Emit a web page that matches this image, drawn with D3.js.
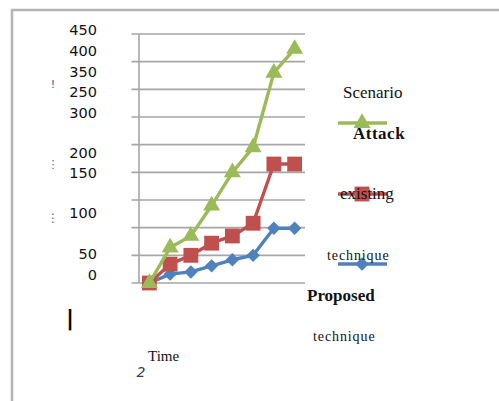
<!DOCTYPE html>
<html>
<head>
<meta charset="utf-8">
<script src="https://cdn.jsdelivr.net/npm/d3@7"></script>
<style>
  html, body { margin: 0; padding: 0; background: #fff; }
  svg { display: block; }
</style>
</head>
<body>
<svg id="chart" width="499" height="401"></svg>
<script>
// Time steps along the horizontal axis
const timeSteps = [1, 2, 3, 4, 5, 6, 7, 8];

// Series values
const attackScenario   = [0, 64, 85, 140, 200, 245, 380, 423];
const existingTechnique = [0, 34, 50, 72, 85, 108, 215, 215];
const proposedTechnique = [0, 16, 20, 31, 42, 50, 99, 99];

// Axis labels as they appear on the value axis (top to bottom)
const yTickLabels = ["450", "400", "350", "250", "300", "200", "150", "100", "50", "0"];
const yGridValues = [0, 50, 100, 150, 200, 250, 300, 350, 400, 450];

const svg = d3.select("#chart");

// Frame around the chart area (top and left edges visible)
svg.append("path")
  .attr("d", "M12,401 V10 H499")
  .attr("fill", "none")
  .attr("stroke", "#b4b4b4")
  .attr("stroke-width", 2.5);

const x = d3.scaleBand().domain(timeSteps).range([139, 305]).padding(0);
const y = d3.scaleLinear().domain([0, 450]).range([283, 34]);
const cx = d => x(d) + x.bandwidth() / 2;

// Horizontal gridlines (with short tick stubs left of the axis)
svg.append("g").selectAll("line")
  .data(yGridValues)
  .join("line")
  .attr("x1", 131.5).attr("x2", 305)
  .attr("y1", d => y(d)).attr("y2", d => y(d))
  .attr("stroke", "#a6a6a6")
  .attr("stroke-width", 1.6);

// Vertical value axis line
svg.append("line")
  .attr("x1", 139).attr("x2", 139)
  .attr("y1", y(450)).attr("y2", y(0))
  .attr("stroke", "#a6a6a6")
  .attr("stroke-width", 1.6);

// Value axis labels
const labelY = [30, 51, 72, 92, 113, 153, 173, 213, 254, 275];
svg.append("g").selectAll("text")
  .data(yTickLabels)
  .join("text")
  .attr("x", 97)
  .attr("y", (d, i) => labelY[i])
  .attr("dy", "0.36em")
  .attr("text-anchor", "end")
  .attr("font-family", "DejaVu Sans, Verdana, sans-serif")
  .attr("font-size", 14.5)
  .attr("fill", "#111")
  .text(d => d);

// Marker shapes
const triPath = d3.symbol(d3.symbolTriangle, 125)();
const sqPath = d3.symbol(d3.symbolSquare, 220)();
const diaPath = d3.symbol(d3.symbolSquare, 90)();

const series = [
  { name: "Proposed technique", values: proposedTechnique, color: "#4f81bd", marker: diaPath, rotate: 45 },
  { name: "existing", values: existingTechnique, color: "#c0504d", marker: sqPath, rotate: 0 },
  { name: "Attack Scenario", values: attackScenario, color: "#9bbb59", marker: triPath, rotate: 0 }
];

const line = d3.line()
  .x((d, i) => cx(timeSteps[i]))
  .y(d => y(d));

series.forEach(s => {
  const g = svg.append("g");
  g.append("path")
    .datum(s.values)
    .attr("d", line)
    .attr("fill", "none")
    .attr("stroke", s.color)
    .attr("stroke-width", 3.4)
    .attr("stroke-linejoin", "round");
  g.selectAll("path.m")
    .data(s.values)
    .join("path")
    .attr("class", "m")
    .attr("d", s.marker)
    .attr("transform", (d, i) => `translate(${cx(timeSteps[i])},${y(d)}) rotate(${s.rotate})`)
    .attr("fill", s.color);
});

// Legend
const legend = svg.append("g")
  .attr("font-family", "Liberation Serif, Times New Roman, serif")
  .attr("fill", "#111");

legend.append("text").attr("x", 343).attr("y", 98).attr("font-size", 17).text("Scenario");

const legendItems = [
  { y: 123, color: "#9bbb59", marker: triPath, rotate: 0 },
  { y: 194, color: "#c0504d", marker: sqPath, rotate: 0 },
  { y: 264, color: "#4f81bd", marker: diaPath, rotate: 45 }
];
legendItems.forEach(it => {
  legend.append("line")
    .attr("x1", 338).attr("x2", 387)
    .attr("y1", it.y).attr("y2", it.y)
    .attr("stroke", it.color).attr("stroke-width", 3.4);
  legend.append("path")
    .attr("d", it.marker)
    .attr("transform", `translate(362,${it.y}) rotate(${it.rotate})`)
    .attr("fill", it.color);
});

legend.append("text").attr("x", 353).attr("y", 139).attr("font-size", 17)
  .attr("font-weight", "bold").attr("letter-spacing", 0.5).text("Attack");
legend.append("text").attr("x", 340).attr("y", 199).attr("font-size", 17).text("existing");
legend.append("text").attr("x", 327).attr("y", 260).attr("font-size", 14)
  .attr("letter-spacing", 0.9).text("technique");
legend.append("text").attr("x", 307).attr("y", 301).attr("font-size", 17)
  .attr("font-weight", "bold").text("Proposed");
legend.append("text").attr("x", 313).attr("y", 341).attr("font-size", 14)
  .attr("letter-spacing", 0.9).text("technique");

// Horizontal axis title
svg.append("text")
  .attr("x", 148).attr("y", 361)
  .attr("font-family", "Liberation Serif, Times New Roman, serif")
  .attr("font-size", 15)
  .attr("fill", "#111")
  .text("Time");

// Small stray glyphs near the axis area
const marks = svg.append("g").attr("font-family", "DejaVu Sans, sans-serif");
marks.append("text").attr("x", 53).attr("y", 88).attr("font-size", 11)
  .attr("text-anchor", "middle").attr("fill", "#3b5ea8").text("!");
marks.append("text").attr("x", 53).attr("y", 168).attr("font-size", 11)
  .attr("text-anchor", "middle").attr("fill", "#3b6ea0").text("⋮");
marks.append("text").attr("x", 53).attr("y", 222).attr("font-size", 12)
  .attr("text-anchor", "middle").attr("fill", "#3b6ea0").text("⋮");
marks.append("text").attr("x", 70).attr("y", 325).attr("font-size", 22)
  .attr("text-anchor", "middle").attr("fill", "#000").attr("font-weight", "bold").text("|");
marks.append("text").attr("x", 141).attr("y", 377).attr("font-size", 14)
  .attr("text-anchor", "middle").attr("fill", "#2a3f66").attr("font-style", "italic").text("2");
</script>
</body>
</html>
